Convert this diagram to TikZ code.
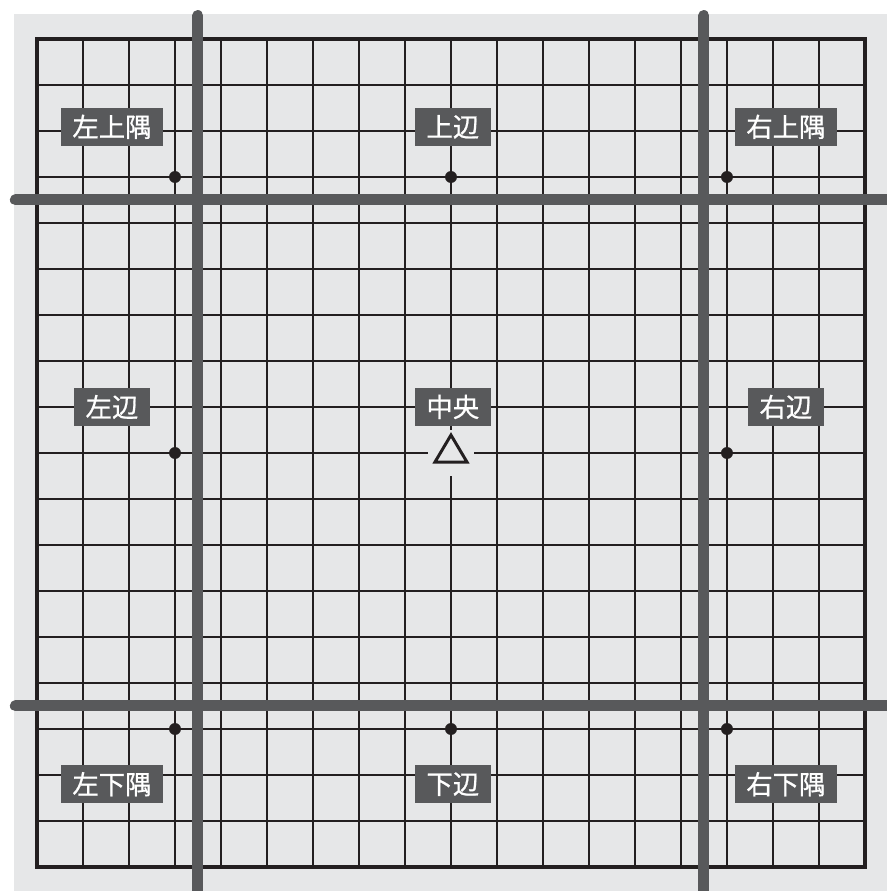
\documentclass[tikz,border=0pt]{standalone}
\usepackage{fontspec}
\newfontfamily\jpfont[FakeBold=0.8]{Noto Sans CJK JP}
\usepackage{xcolor}
\definecolor{goline}{HTML}{231F20}
\definecolor{gobg}{HTML}{E6E7E8}
\definecolor{godark}{HTML}{58595B}

\begin{document}
\begin{tikzpicture}[
    tag/.style={fill=godark, text=white, font=\jpfont\fontsize{16.3}{19}\selectfont,
      inner xsep=7.2pt, inner ysep=0pt, minimum height=0.826cm},
    divider/.style={godark, line width=6.8pt, line cap=round}]
  \useasboundingbox (-0.804,-0.522) rectangle (18.478,18.848);
  \fill[gobg] (-0.5,-0.8) rectangle (18.8,18.54);
  % board
  \foreach \i in {1,...,17} {
    \draw[goline, line width=1.3pt] (\i,0) -- (\i,18);
    \draw[goline, line width=1.3pt] (0,\i) -- (18,\i);
  }
  \draw[goline, line width=2.5pt] (0,0) rectangle (18,18);
  \foreach \x in {3,9,15}
    \foreach \y in {3,9,15}
      \fill[goline] (\x,\y) circle (0.13);
  % center mark
  \fill[gobg] (8.5,8.5) rectangle (9.5,9.5);
  \draw[goline, line width=1.85pt] (9,9.39) -- (9.35,8.8) -- (8.65,8.8) -- cycle;
  % dividers
  \draw[divider] (3.5,18.51) -- (3.5,-1);
  \draw[divider] (14.5,18.51) -- (14.5,-1);
  \draw[divider] (-0.47,14.5) -- (19.5,14.5);
  \draw[divider] (-0.47,3.5) -- (19.5,3.5);
  % labels
  \node[tag] (ul) at (1.63,16.09) {左上隅};
  \node[tag] (um) at (9.04,16.09) {上辺};
  \node[tag] (ur) at (16.28,16.09) {右上隅};
  \node[tag] (ml) at (1.63,10) {左辺};
  \node[tag] (mm) at (9.04,10) {中央};
  \node[tag] (mr) at (16.28,10) {右辺};
  \node[tag] (ll) at (1.63,1.8) {左下隅};
  \node[tag] (lm) at (9.04,1.8) {下辺};
  \node[tag] (lr) at (16.28,1.8) {右下隅};
\end{tikzpicture}
\end{document}
